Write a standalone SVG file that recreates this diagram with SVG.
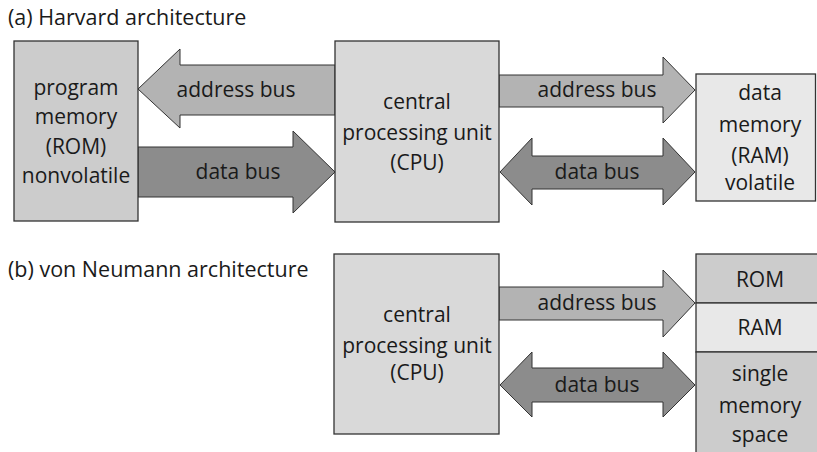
<svg xmlns="http://www.w3.org/2000/svg" width="817" height="452" viewBox="0 0 817 452">
<style>
.box{stroke:#333;stroke-width:1.3}
.pm{fill:#cccccc}
.cpu{fill:#d9d9d9}
.dm{fill:#e8e8e8}
.ab{fill:#b3b3b3;stroke:#333;stroke-width:1}
.db{fill:#8c8c8c;stroke:#333;stroke-width:1}
text{font-family:"Open Sans","Lato",sans-serif;font-size:21px;fill:#1a1a1a;text-anchor:middle}
.title{text-anchor:start;font-size:21.5px}
</style>
<rect width="817" height="452" fill="#fff"/>
<text class="title" x="8" y="25">(a) Harvard architecture</text>
<text class="title" x="8" y="277">(b) von Neumann architecture</text>
<g id="connectors">
<polygon class="ab" points="335,65 180,65 180,49 138,89 180,128 180,115 335,115"/>
<polygon class="db" points="138,147 293,147 293,131 335,172 293,213 293,197 138,197"/>
<polygon class="ab" points="499,75 663,75 663,57 695,90 663,123 663,107 499,107"/>
<polygon class="db" points="500,172 532,138 532,156 663,156 663,138 695,172 663,205 663,189 532,189 532,205"/>
<polygon class="ab" points="499,287 663,287 663,270 695,303 663,337 663,320 499,320"/>
<polygon class="db" points="500,385 532,352 532,368 663,368 663,352 695,385 663,417 663,402 532,402 532,417"/>
<text x="236" y="97">address bus</text>
<text x="238" y="179">data bus</text>
<text x="597" y="97">address bus</text>
<text x="597" y="179">data bus</text>
<text x="597" y="310">address bus</text>
<text x="597" y="392">data bus</text>
</g>
<g id="program-memory">
<rect class="box pm" x="14" y="41" width="124" height="180"/>
<text x="76" y="95">program</text>
<text x="76" y="124">memory</text>
<text x="76" y="154">(ROM)</text>
<text x="76" y="183">nonvolatile</text>
</g>
<g id="cpu-a">
<rect class="box cpu" x="335" y="41" width="164" height="181"/>
<text x="417" y="109">central</text>
<text x="417" y="140">processing unit</text>
<text x="417" y="170">(CPU)</text>
</g>
<g id="data-memory">
<rect class="box dm" x="696" y="74" width="119.5" height="127"/>
<text x="760" y="100">data</text>
<text x="760" y="132">memory</text>
<text x="760" y="163">(RAM)</text>
<text x="760" y="190">volatile</text>
</g>
<g id="cpu-b">
<rect class="box cpu" x="334" y="254" width="165" height="180"/>
<text x="417" y="322">central</text>
<text x="417" y="353">processing unit</text>
<text x="417" y="380">(CPU)</text>
</g>
<g id="rom">
<rect class="box pm" x="696" y="254" width="130" height="49"/>
<text x="760" y="287">ROM</text>
</g>
<g id="ram">
<rect class="box dm" x="696" y="303" width="130" height="49"/>
<text x="760" y="335">RAM</text>
</g>
<g id="single-memory">
<rect class="box pm" x="696" y="352" width="130" height="110"/>
<text x="760" y="381">single</text>
<text x="760" y="413">memory</text>
<text x="760" y="442">space</text>
</g>
</svg>
